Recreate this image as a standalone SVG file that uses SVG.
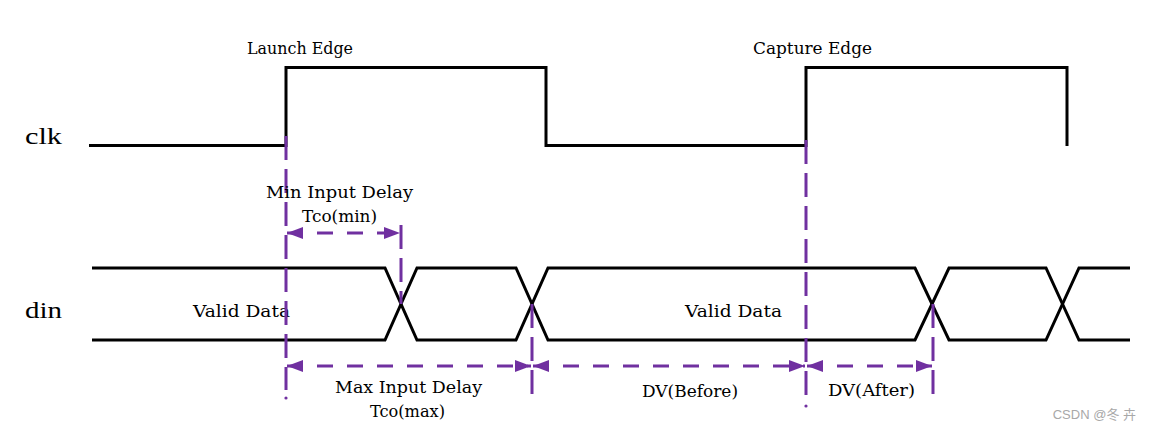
<svg xmlns="http://www.w3.org/2000/svg" width="1152" height="429" viewBox="0 0 1152 429">
<style>
.sig{fill:none;stroke:#000;stroke-width:3;stroke-linejoin:miter;stroke-linecap:butt}
.vd{fill:none;stroke:#7030A0;stroke-width:3;stroke-dasharray:24 9}
.hd{fill:none;stroke:#7030A0;stroke-width:3;stroke-dasharray:16 14}
.dot{fill:#7030A0}
.lbl{font-family:"DejaVu Serif","Liberation Serif",serif;font-size:16px;fill:#000}
.big{font-family:"Liberation Serif","Times New Roman",serif;font-size:24px;fill:#000}
.wm{font-family:"Liberation Sans",Arial,"Noto Sans CJK SC",sans-serif;font-size:13px;fill:#a8a8a8}
</style>
<defs>
<marker id="ah" viewBox="0 0 16 12" refX="16" refY="6" markerWidth="16" markerHeight="12" markerUnits="userSpaceOnUse" orient="auto-start-reverse">
<path d="M0,0 L16,6 L0,12 Z" fill="#7030A0"/>
</marker>
</defs>
<rect width="1152" height="429" fill="#fff"/>
<g id="clk">
<polyline class="sig" points="89,145.5 286,145.5 286,67.5 546,67.5 546,145.5 806,145.5 806,67.5 1067,67.5 1067,146"/>
<text class="big" x="25" y="144" textLength="37" lengthAdjust="spacingAndGlyphs">clk</text>
<text class="lbl" x="247" y="54" textLength="106" lengthAdjust="spacingAndGlyphs">Launch Edge</text>
<text class="lbl" x="753" y="54" textLength="119" lengthAdjust="spacingAndGlyphs">Capture Edge</text>
</g>
<g id="din">
<polyline class="sig" points="92,268 385,268 417,340 516,340 548,268 915,268 949,340 1046,340 1079,268 1130,268"/>
<polyline class="sig" points="92,340 385,340 417,268 516,268 548,340 915,340 949,268 1046,268 1079,340 1130,340"/>
<text class="big" x="25" y="318" textLength="37" lengthAdjust="spacingAndGlyphs">din</text>
<text class="lbl" x="193" y="317" textLength="97" lengthAdjust="spacingAndGlyphs">Valid Data</text>
<text class="lbl" x="685" y="317" textLength="97" lengthAdjust="spacingAndGlyphs">Valid Data</text>
</g>
<g id="connectors">
<line class="vd" x1="286" y1="136" x2="286" y2="390"/>
<circle class="dot" cx="286" cy="398" r="1.6"/>
<line class="vd" x1="401" y1="225" x2="401" y2="304"/>
<line class="vd" x1="532" y1="304" x2="532" y2="400"/>
<line class="vd" x1="806" y1="140" x2="806" y2="398"/>
<circle class="dot" cx="806" cy="406" r="1.6"/>
<line class="vd" x1="933" y1="304" x2="933" y2="398"/>
<line class="hd" x1="287" y1="233" x2="400" y2="233" marker-start="url(#ah)" marker-end="url(#ah)"/>
<line class="hd" x1="287" y1="366" x2="531" y2="366" marker-start="url(#ah)" marker-end="url(#ah)"/>
<line class="hd" x1="533" y1="366" x2="805" y2="366" marker-start="url(#ah)" marker-end="url(#ah)"/>
<line class="hd" x1="807" y1="366" x2="932" y2="366" marker-start="url(#ah)" marker-end="url(#ah)"/>
</g>
<g id="labels">
<text class="lbl" x="266" y="198" textLength="147" lengthAdjust="spacingAndGlyphs">Min Input Delay</text>
<text class="lbl" x="302" y="222" textLength="75" lengthAdjust="spacingAndGlyphs">Tco(min)</text>
<text class="lbl" x="335" y="393" textLength="147" lengthAdjust="spacingAndGlyphs">Max Input Delay</text>
<text class="lbl" x="370" y="417" textLength="75" lengthAdjust="spacingAndGlyphs">Tco(max)</text>
<text class="lbl" x="642" y="397" textLength="96" lengthAdjust="spacingAndGlyphs">DV(Before)</text>
<text class="lbl" x="828" y="396" textLength="87" lengthAdjust="spacingAndGlyphs">DV(After)</text>
</g>
<text class="wm" x="1136" y="419" text-anchor="end">CSDN @冬 卉</text>
</svg>
